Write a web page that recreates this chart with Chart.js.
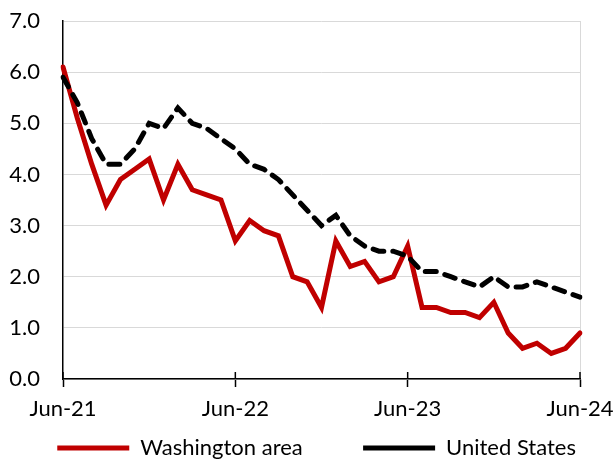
<!DOCTYPE html>
<html>
<head>
<meta charset="utf-8">
<script src="https://cdn.jsdelivr.net/npm/chart.js@4.4.1/dist/chart.umd.min.js"></script>
<style>
  html, body { margin: 0; padding: 0; background: #fff; }
  #wrap { width: 615px; height: 459px; }
</style>
</head>
<body>
<div id="wrap"><canvas id="c" width="615" height="459"></canvas></div>
<script>
const months = [
  'Jun-21','Jul-21','Aug-21','Sep-21','Oct-21','Nov-21','Dec-21',
  'Jan-22','Feb-22','Mar-22','Apr-22','May-22','Jun-22','Jul-22','Aug-22','Sep-22','Oct-22','Nov-22','Dec-22',
  'Jan-23','Feb-23','Mar-23','Apr-23','May-23','Jun-23','Jul-23','Aug-23','Sep-23','Oct-23','Nov-23','Dec-23',
  'Jan-24','Feb-24','Mar-24','Apr-24','May-24','Jun-24'
];
const shownTicks = ['Jun-21','Jun-22','Jun-23','Jun-24'];
const washington = [
  6.1, 5.1, 4.2, 3.4, 3.9, 4.1, 4.3,
  3.5, 4.2, 3.7, 3.6, 3.5, 2.7, 3.1, 2.9, 2.8, 2.0, 1.9, 1.4,
  2.7, 2.2, 2.3, 1.9, 2.0, 2.6, 1.4, 1.4, 1.3, 1.3, 1.2, 1.5,
  0.9, 0.6, 0.7, 0.5, 0.6, 0.9
];
const unitedStates = [
  5.9, 5.4, 4.7, 4.2, 4.2, 4.5, 5.0,
  4.9, 5.3, 5.0, 4.9, 4.7, 4.5, 4.2, 4.1, 3.9, 3.6, 3.3, 3.0,
  3.2, 2.8, 2.6, 2.5, 2.5, 2.4, 2.1, 2.1, 2.0, 1.9, 1.8, 2.0,
  1.8, 1.8, 1.9, 1.8, 1.7, 1.6
];
const seriesNames = ['Washington area', 'United States'];

const FONT = 'Lato';
Chart.defaults.font.family = FONT;
Chart.defaults.font.size = 22;
Chart.defaults.color = '#000';

const crossTicks = {
  id: 'crossTicks',
  afterDatasetsDraw(chart) {
    const xs = chart.scales.x;
    const ctx = chart.ctx;
    ctx.save();
    ctx.strokeStyle = '#000';
    ctx.lineWidth = 1.5;
    months.forEach((m, i) => {
      if (shownTicks.includes(m)) {
        const px = xs.getPixelForValue(i);
        ctx.beginPath();
        ctx.moveTo(px, xs.top - 7);
        ctx.lineTo(px, xs.top);
        ctx.stroke();
      }
    });
    ctx.restore();
  }
};

new Chart(document.getElementById('c'), {
  type: 'line',
  data: {
    labels: months,
    datasets: [
      {
        label: seriesNames[0],
        data: washington,
        borderColor: '#C00000',
        backgroundColor: '#C00000',
        borderWidth: 5,
        borderCapStyle: 'round',
        pointRadius: 0,
        tension: 0,
        order: 1
      },
      {
        label: seriesNames[1],
        data: unitedStates,
        borderColor: '#000000',
        backgroundColor: '#000000',
        borderWidth: 5,
        borderDash: [11, 9],
        borderCapStyle: 'round',
        pointRadius: 0,
        tension: 0,
        order: 0
      }
    ]
  },
  options: {
    responsive: false,
    animation: false,
    layout: { autoPadding: false, padding: { left: 0, right: 35, top: 21, bottom: -10 } },
    plugins: {
      tooltip: { enabled: false },
      legend: {
        position: 'bottom',
        align: 'end',
        labels: {
          usePointStyle: true,
          pointStyle: 'line',
          pointStyleWidth: 72,
          boxHeight: 22,
          padding: 4,
          color: '#000',
          font: { family: FONT, size: 22 },
          sort: (a, b) => a.datasetIndex - b.datasetIndex,
          generateLabels(chart) {
            const items = Chart.defaults.plugins.legend.labels.generateLabels(chart);
            items.forEach(it => {
              if (it.datasetIndex === 0) it.text = it.text + '          ';
            });
            return items;
          }
        }
      }
    },
    scales: {
      x: {
        type: 'category',
        offset: false,
        afterFit(scale) {
          scale.height = 54;
          scale.paddingLeft = 0;
          scale.paddingRight = 0;
        },
        grid: {
          offset: false,
          drawOnChartArea: true,
          color: (c) => c.index === months.length - 1 ? '#d9d9d9' : 'rgba(0,0,0,0)',
          tickColor: (c) => shownTicks.includes(months[c.index]) ? '#000' : 'rgba(0,0,0,0)',
          tickLength: 8,
          tickWidth: 1.5,
          lineWidth: 1
        },
        border: { color: '#000', width: 1.5 },
        ticks: {
          autoSkip: false,
          maxRotation: 0,
          minRotation: 0,
          padding: 9,
          color: '#000',
          font: { family: FONT, size: 22 },
          callback: (v, i) => shownTicks.includes(months[i]) ? months[i] : ''
        }
      },
      y: {
        min: 0,
        max: 7,
        afterFit(scale) {
          scale.width = 63;
          scale.paddingTop = 0;
          scale.paddingBottom = 0;
        },
        grid: { color: '#d9d9d9', lineWidth: 1, drawTicks: false },
        border: { color: '#000', width: 1.5 },
        ticks: {
          stepSize: 1,
          padding: 23,
          color: '#000',
          font: { family: FONT, size: 22 },
          callback: (v) => Number(v).toFixed(1)
        }
      }
    }
  },
  plugins: [crossTicks]
});
</script>
</body>
</html>
